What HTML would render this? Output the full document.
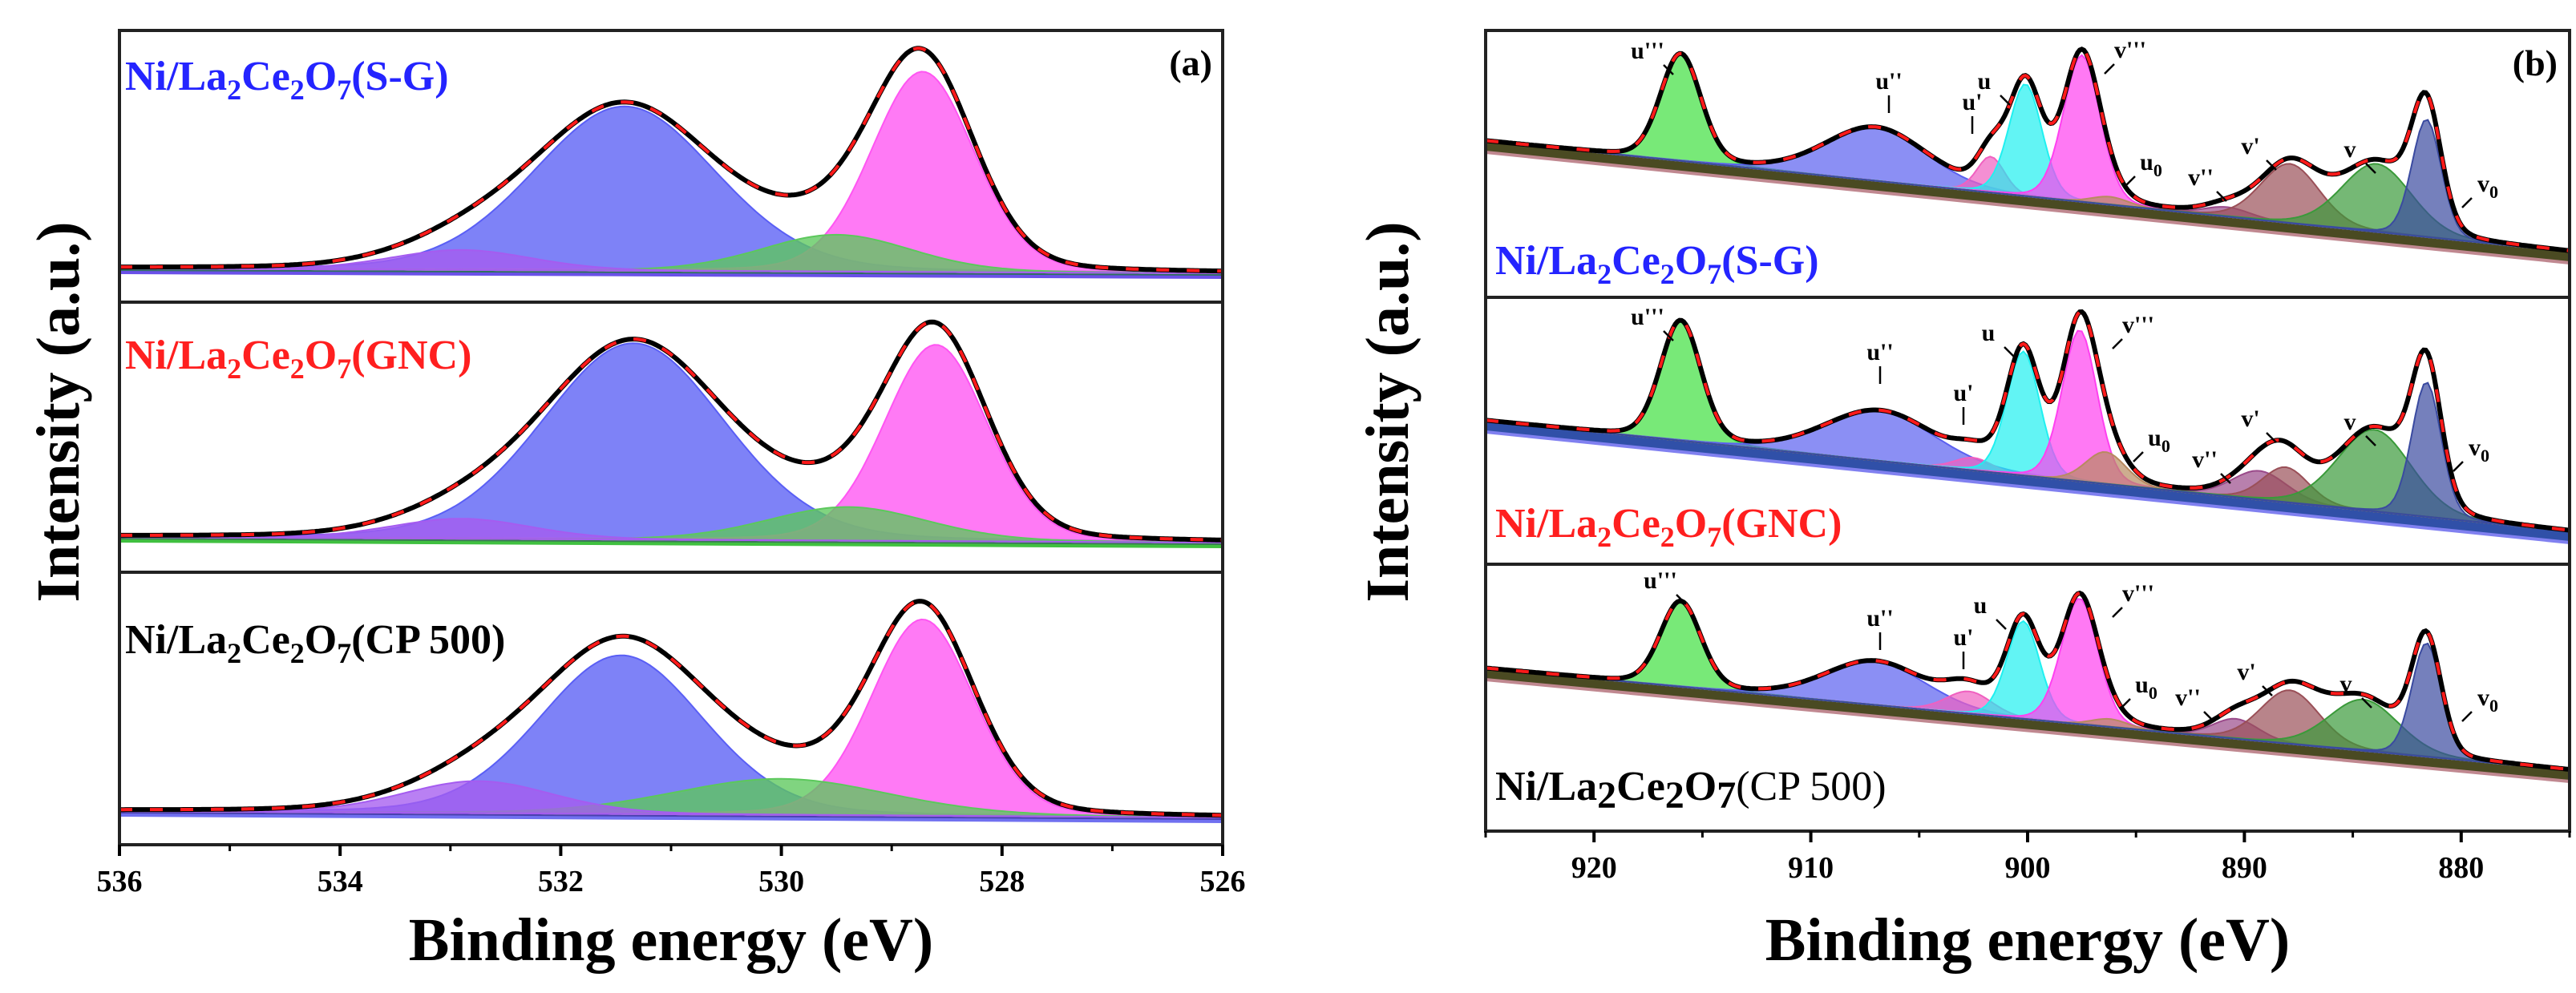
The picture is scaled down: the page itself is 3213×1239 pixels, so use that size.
<!DOCTYPE html>
<html><head><meta charset="utf-8"><style>
html,body{margin:0;padding:0;background:#fff;}
svg{display:block;font-family:"Liberation Serif",serif;font-weight:bold;}
</style></head><body>
<svg id="fig" width="3213" height="1239" viewBox="0 0 3213 1239" xmlns="http://www.w3.org/2000/svg">
<g id="gL"></g>
<g id="gR"></g>
<g id="txt">
<text x="1512" y="94" font-size="46" text-anchor="end">(a)</text>
<text x="3190" y="94" font-size="46" text-anchor="end">(b)</text>
<text x="837" y="1198" font-size="76" text-anchor="middle">Binding energy (eV)</text>
<text x="2529" y="1198" font-size="76" text-anchor="middle">Binding energy (eV)</text>
<text transform="translate(98,514) rotate(-90)" font-size="76" text-anchor="middle">Intensity (a.u.)</text>
<text transform="translate(1756,514) rotate(-90)" font-size="76" text-anchor="middle">Intensity (a.u.)</text>
<text x="156" y="112" font-size="52" fill="#2424ff">Ni/La<tspan dy="12" font-size="36">2</tspan><tspan dy="-12">Ce</tspan><tspan dy="12" font-size="36">2</tspan><tspan dy="-12">O</tspan><tspan dy="12" font-size="36">7</tspan><tspan dy="-12">(S-G)</tspan></text>
<text x="156" y="460" font-size="52" fill="#ff1f1f">Ni/La<tspan dy="12" font-size="36">2</tspan><tspan dy="-12">Ce</tspan><tspan dy="12" font-size="36">2</tspan><tspan dy="-12">O</tspan><tspan dy="12" font-size="36">7</tspan><tspan dy="-12">(GNC)</tspan></text>
<text x="156" y="815" font-size="52" fill="#000">Ni/La<tspan dy="12" font-size="36">2</tspan><tspan dy="-12">Ce</tspan><tspan dy="12" font-size="36">2</tspan><tspan dy="-12">O</tspan><tspan dy="12" font-size="36">7</tspan><tspan dy="-12">(CP 500)</tspan></text>
<text x="1865" y="342" font-size="52" fill="#2424ff">Ni/La<tspan dy="12" font-size="36">2</tspan><tspan dy="-12">Ce</tspan><tspan dy="12" font-size="36">2</tspan><tspan dy="-12">O</tspan><tspan dy="12" font-size="36">7</tspan><tspan dy="-12">(S-G)</tspan></text>
<text x="1865" y="670" font-size="52" fill="#ff1f1f">Ni/La<tspan dy="12" font-size="36">2</tspan><tspan dy="-12">Ce</tspan><tspan dy="12" font-size="36">2</tspan><tspan dy="-12">O</tspan><tspan dy="12" font-size="36">7</tspan><tspan dy="-12">(GNC)</tspan></text>
<text x="1865" y="998" font-size="52" fill="#000">Ni/La<tspan dy="10" font-size="48">2</tspan><tspan dy="-10">Ce</tspan><tspan dy="10" font-size="48">2</tspan><tspan dy="-10">O</tspan><tspan dy="10" font-size="48">7</tspan><tspan dy="-10" font-weight="normal">(CP 500)</tspan></text>
</g>
</svg>
<script>
// ---------- Panel (a) O 1s data ----------
const oNames = ["lattice-o-blue","surface-o-pink","green-o","purple-o"];
const oCenters_SG = [531.42, 528.72, 529.5, 532.9];
const oHeights_SG = [205, 250, 46, 25];
const oFwhm_SG = [1.95, 1.1, 1.6, 1.5];
const oCenters_GNC = [531.34, 528.6, 529.4, 532.9];
const oHeights_GNC = [245, 245, 42, 25];
const oFwhm_GNC = [1.95, 1.1, 1.7, 1.5];
const oCenters_CP = [531.45, 528.72, 530.0, 532.75];
const oHeights_CP = [198, 245, 45, 40];
const oFwhm_CP = [1.75, 1.1, 2.3, 1.6];
const oBaseline_SG = [4, -2];
const oBaseline_GNC = [6, -1];
const oBaseline_CP = [4, -4];
const oTicks = [536, 534, 532, 530, 528, 526];
const oMinor = [535, 533, 531, 529, 527];

// ---------- Panel (b) Ce 3d data ----------
const ceNames = ["u3","u2","u1","u","v3","u0","v2","v1","v","v0"];
const ceCenters_SG = [916.0, 907.0, 901.7, 900.1, 897.5, 896.2, 890.8, 887.9, 883.9, 881.6];
const ceHeights_SG = [133, 66, 45, 140, 183, 10, 12, 74, 85, 147];
const ceFwhm_SG = [2.2, 5.5, 1.5, 1.8, 2.0, 2.0, 2.5, 3.2, 3.8, 1.6];
const ceCenters_GNC = [916.0, 906.8, 902.5, 900.2, 897.6, 896.4, 889.3, 888.1, 884.0, 881.6];
const ceHeights_GNC = [149, 62, 16, 155, 189, 40, 36, 44, 102, 168];
const ceFwhm_GNC = [2.2, 6.0, 2.0, 1.8, 1.9, 2.2, 3.0, 2.5, 4.0, 1.6];
const ceCenters_CP = [916.0, 907.0, 902.7, 900.2, 897.6, 896.2, 890.4, 887.9, 884.5, 881.6];
const ceHeights_CP = [106, 54, 28, 122, 157, 10, 25, 67, 64, 142];
const ceFwhm_CP = [2.2, 5.5, 2.5, 1.8, 2.0, 2.0, 2.5, 3.2, 3.8, 1.6];
const ceBaseline_SG = [175, 37];
const ceBaseline_GNC = [159, 21];
const ceBaseline_CP = [183, 56];
const ceTicks = [920, 910, 900, 890, 880];
const ceMinor = [925, 915, 905, 895, 885, 875];
const ceLabels = ["u'''","u''","u'","u","v'''","u0","v''","v'","v","v0"];

const NS = "http://www.w3.org/2000/svg";
function mk(tag, attrs, parent){const e=document.createElementNS(NS,tag);for(const k in attrs)e.setAttribute(k,attrs[k]);parent.appendChild(e);return e;}
function pv(e,c,h,w){const s=w/2.3548;const g=Math.exp(-0.5*((e-c)/s)**2);const l=1/(1+((e-c)/(w/2))**2);return h*(0.85*g+0.15*l);}

function drawPanel(g, cfg){
  const {x0,x1,e0,e1,tops,subs,colors,names,bandColors,edgeColors,ticks,minor} = cfg;
  const X = e => x0 + (e0-e)/(e0-e1)*(x1-x0);
  const N = 260;
  subs.forEach((sp, si) => {
    const bottom = tops[si+1];
    const yZero = bottom - cfg.zeroOff;
    const Y = v => yZero - v;
    const base = e => sp.base[0] + (sp.base[1]-sp.base[0])*(e0-e)/(e0-e1);
    const sg = mk("g",{},g);
    
    
    if (bandColors){
      let d="M"+X(e0)+","+Y(base(e0))+" L"+X(e1)+","+Y(base(e1))+" L"+X(e1)+","+(Y(base(e1))+cfg.bandW)+" L"+X(e0)+","+(Y(base(e0))+cfg.bandW)+"Z";
      const b=mk("path",{d:d,fill:bandColors[si]},sg);
      
      
      const b2=mk("line",{x1:X(e0),y1:Y(base(e0))+cfg.bandW,x2:X(e1),y2:Y(base(e1))+cfg.bandW,stroke:edgeColors[si],"stroke-width":4},sg);
      
      
    }
    sp.c.forEach((c,i)=>{
      let d="M"+X(e0)+","+Y(base(e0));
      for(let k=0;k<=N;k++){const e=e0-(e0-e1)*k/N;d+=" L"+X(e).toFixed(1)+","+Y(base(e)+pv(e,c,sp.h[i],sp.w[i])).toFixed(1);}
      for(let k=N;k>=0;k--){const e=e0-(e0-e1)*k/N;d+=" L"+X(e).toFixed(1)+","+Y(base(e)).toFixed(1);}
      d+="Z";
      const p=mk("path",{d:d,fill:colors[i],"fill-opacity":cfg.alpha,stroke:colors[i],"stroke-width":2},sg);
      
      
    });
    let d="";
    for(let k=0;k<=N*2;k++){const e=e0-(e0-e1)*k/(N*2);let v=base(e);sp.c.forEach((c,i)=>v+=pv(e,c,sp.h[i],sp.w[i]));d+=(k?" L":"M")+X(e).toFixed(1)+","+Y(v).toFixed(1);}
    const env=mk("path",{d:d,fill:"none",stroke:"#000","stroke-width":6},sg);
    
    
    const fit=mk("path",{d:d,fill:"none",stroke:"#ff1a1a","stroke-width":4,"stroke-dasharray":"16 22"},sg);
    
    
  });
  for(let si=0;si<3;si++){
    const r=mk("rect",{x:x0,y:tops[si],width:x1-x0,height:tops[si+1]-tops[si],fill:"none",stroke:"#222","stroke-width":4},g);
    
    
  }
  const yb=tops[3];
  ticks.forEach(t=>{
    const l=mk("line",{x1:X(t),y1:yb,x2:X(t),y2:yb+14,stroke:"#000","stroke-width":4},g);
    
    
    const tx=mk("text",{x:X(t),y:yb+58,"font-size":38,"text-anchor":"middle"},g);
    tx.textContent=t;
    
    
  });
  minor.forEach(t=>{
    const l=mk("line",{x1:X(t),y1:yb,x2:X(t),y2:yb+8,stroke:"#000","stroke-width":3},g);
    
    
  });
  return X;
}

const oSubs=[
 {key:"a-sg",c:oCenters_SG,h:oHeights_SG,w:oFwhm_SG,base:oBaseline_SG},
 {key:"a-gnc",c:oCenters_GNC,h:oHeights_GNC,w:oFwhm_GNC,base:oBaseline_GNC},
 {key:"a-cp500",c:oCenters_CP,h:oHeights_CP,w:oFwhm_CP,base:oBaseline_CP}];
drawPanel(document.getElementById("gL"),{x0:149,x1:1525,e0:536,e1:526,tops:[38,377,714,1054],zeroOff:38,subs:oSubs,
 colors:["#5a5ff5","#ff55f2","#5cc85c","#a55cf0"],names:oNames,alpha:0.78,bandColors:["#2f6f5f","#3a7a55","#4a40b0"],edgeColors:["#6a50e8","#40c040","#7070f0"],bandW:5,ticks:oTicks,minor:oMinor});

const ceSubs=[
 {key:"b-sg",c:ceCenters_SG,h:ceHeights_SG,w:ceFwhm_SG,base:ceBaseline_SG},
 {key:"b-gnc",c:ceCenters_GNC,h:ceHeights_GNC,w:ceFwhm_GNC,base:ceBaseline_GNC},
 {key:"b-cp500",c:ceCenters_CP,h:ceHeights_CP,w:ceFwhm_CP,base:ceBaseline_CP}];
drawPanel(document.getElementById("gR"),{x0:1853,x1:3205,e0:925,e1:875,tops:[38,371,704,1037],zeroOff:20,subs:ceSubs,
 colors:["#3fe03f","#5a5ff0","#f060c0","#20f0f0","#ff40f0","#b88a60","#9a4a8a","#9a5058","#3a9a3a","#3a4aa0"],names:ceNames,alpha:0.7,
 bandColors:["#4a4a22","#3050a8","#4a4a22"],edgeColors:["#c08890","#8080f0","#c08890"],bandW:14,ticks:ceTicks,minor:ceMinor});

// peak annotations (b)
const annPos=[
 [[2055,63],[2356,101],[2460,127],[2475,101],[2657,62],[2683,202],[2745,221],[2807,182],[2931,186],[3103,229]],
 [[2055,395],[2345,439],[2449,490],[2480,415],[2667,405],[2693,546],[2750,573],[2807,522],[2931,526],[3092,558]],
 [[2071,724],[2345,771],[2449,795],[2470,755],[2667,740],[2677,854],[2729,870],[2802,838],[2926,853],[3103,870]]];
const annDir=[[1,1],[0,1],[0,1],[1,1],[-1,1],[-1,1],[1,1],[1,1],[1,1],[-1,1]];
const tl=document.getElementById("txt");
annPos.forEach((row,si)=>row.forEach((p,i)=>{
  const t=mk("text",{x:p[0],y:p[1]+10,"font-size":30,"text-anchor":"middle"},tl);
  const lab=ceLabels[i];
  if(lab.endsWith("0")){t.textContent=lab[0];const s=mk("tspan",{dy:8,"font-size":22},t);s.textContent="0";}
  else t.textContent=lab;
  
  
  const dx=annDir[i][0], ax=p[0]+dx*20, ay=p[1]+18;
  const ar=mk("line",{x1:ax,y1:ay,x2:ax+dx*12,y2:ay+(dx===0?22:12),stroke:"#000","stroke-width":2.5},tl);
  
  
}));
</script>
</body></html>
